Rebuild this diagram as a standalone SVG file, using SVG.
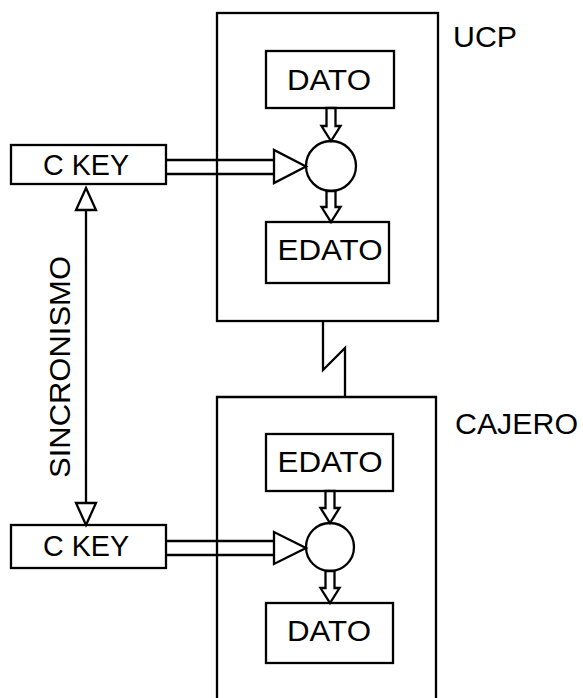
<svg xmlns="http://www.w3.org/2000/svg" width="583" height="698" viewBox="0 0 583 698">
<style>
.b{fill:none;stroke:#000;stroke-width:2.3}
.w{fill:#fff;stroke:#000;stroke-width:2.3;stroke-linejoin:miter}
.l{fill:none;stroke:#000;stroke-width:2.3}
text{font-family:"Liberation Sans",Arial,sans-serif;font-size:29px;fill:#000}
.c{text-anchor:middle}
</style>
<rect width="583" height="698" fill="#fff"/>
<g id="ucp">
<rect class="b" x="217" y="13" width="221" height="308"/>
<text x="453" y="47" font-size="27" textLength="64" lengthAdjust="spacingAndGlyphs">UCP</text>
</g>
<g id="cajero">
<path class="b" d="M217,705 V397 H436 V705"/>
<text x="455" y="434" textLength="123" lengthAdjust="spacingAndGlyphs">CAJERO</text>
</g>
<g id="dato-ucp">
<rect class="b" x="266" y="51" width="128" height="57"/>
<text class="c" x="329" y="90" font-size="30" textLength="84" lengthAdjust="spacingAndGlyphs">DATO</text>
</g>
<g id="edato-ucp">
<rect class="b" x="266" y="222" width="123" height="61"/>
<text class="c" x="330" y="260" font-size="30" textLength="105" lengthAdjust="spacingAndGlyphs">EDATO</text>
</g>
<g id="op-ucp"><circle class="b" cx="331" cy="166" r="25"/></g>
<g id="ckey-ucp">
<rect class="b" x="11" y="145" width="155" height="39"/>
<text class="c" x="86" y="175" font-size="28" textLength="86" lengthAdjust="spacingAndGlyphs">C KEY</text>
</g>
<g id="edato-caj">
<rect class="b" x="266" y="434" width="127" height="57"/>
<text class="c" x="330" y="472" font-size="30" textLength="105" lengthAdjust="spacingAndGlyphs">EDATO</text>
</g>
<g id="op-caj"><circle class="b" cx="330" cy="547" r="24"/></g>
<g id="dato-caj">
<rect class="b" x="266" y="603" width="127" height="60"/>
<text class="c" x="329" y="641" font-size="30" textLength="84" lengthAdjust="spacingAndGlyphs">DATO</text>
</g>
<g id="ckey-caj">
<rect class="b" x="11" y="525" width="155" height="43"/>
<text class="c" x="86" y="556" font-size="28" textLength="86" lengthAdjust="spacingAndGlyphs">C KEY</text>
</g>
<g id="connectors">
<path class="l" d="M166,160 H274 M166,174 H274"/>
<polygon class="w" points="274,150 274,183 306,166.5"/>
<path class="l" d="M166,541 H274 M166,555 H274"/>
<polygon class="w" points="274,532 274,564 306,548"/>
<polygon class="w" points="326.5,108 335.5,108 335.5,126 340.5,126 331,141 321.5,126 326.5,126"/>
<polygon class="w" points="326.5,191 335.5,191 335.5,207 340.5,207 331,222 321.5,207 326.5,207"/>
<polygon class="w" points="325.5,491 334.5,491 334.5,508 339.5,508 330,523 320.5,508 325.5,508"/>
<polygon class="w" points="325.5,571 334.5,571 334.5,588 339.5,588 330,603 320.5,588 325.5,588"/>
<path class="l" d="M323,321 V370 L345,348 V397"/>
<path class="l" d="M86,210 V503"/>
<polygon class="w" points="86,188 96,210 76,210"/>
<polygon class="w" points="86,525 96,503 76,503"/>
<text class="c" transform="translate(70,367) rotate(-90)" font-size="26" textLength="222" lengthAdjust="spacingAndGlyphs">SINCRONISMO</text>
</g>
</svg>
